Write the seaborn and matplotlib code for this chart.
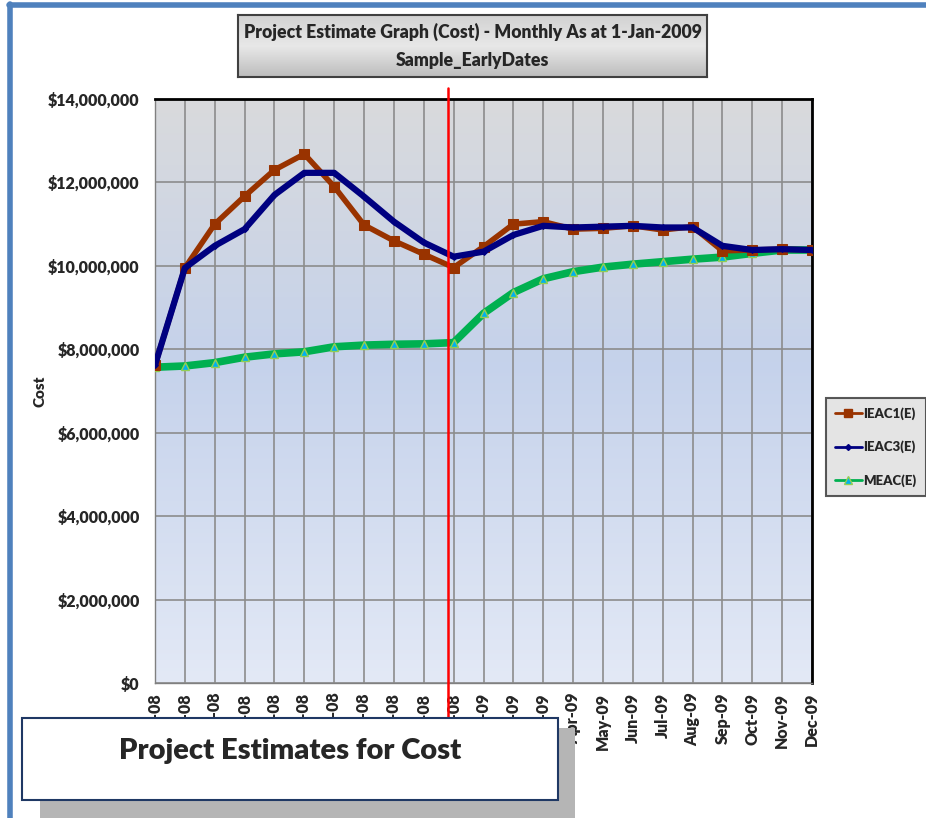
import numpy as np
import pandas as pd
import seaborn as sns
import matplotlib.pyplot as plt
from matplotlib.patches import Rectangle
from matplotlib.colors import LinearSegmentedColormap
from matplotlib.lines import Line2D
from matplotlib.ticker import FuncFormatter, MultipleLocator

# Data (values in dollars)
months = ["Feb-08", "Mar-08", "Apr-08", "May-08", "Jun-08", "Jul-08", "Aug-08", "Sep-08",
          "Oct-08", "Nov-08", "Dec-08", "Jan-09", "Feb-09", "Mar-09", "Apr-09", "May-09",
          "Jun-09", "Jul-09", "Aug-09", "Sep-09", "Oct-09", "Nov-09", "Dec-09"]
ieac1 = [7.62, 9.95, 11.00, 11.67, 12.30, 12.68, 11.90, 10.98, 10.60, 10.28, 9.96, 10.46,
         11.00, 11.06, 10.88, 10.90, 10.96, 10.86, 10.94, 10.36, 10.38, 10.40, 10.38]
ieac3 = [7.62, 9.95, 10.48, 10.88, 11.70, 12.23, 12.23, 11.66, 11.06, 10.56, 10.22, 10.34,
         10.74, 10.96, 10.92, 10.94, 10.96, 10.92, 10.92, 10.48, 10.38, 10.40, 10.38]
meac = [7.57, 7.60, 7.68, 7.81, 7.89, 7.94, 8.06, 8.10, 8.12, 8.13, 8.16, 8.86,
        9.36, 9.69, 9.86, 9.97, 10.04, 10.10, 10.16, 10.21, 10.30, 10.38, 10.38]
status_pos = 9.81  # "As at" line, between Nov-08 and Dec-08

df = pd.DataFrame({
    "idx": np.arange(len(months)),
    "IEAC1(E)": np.array(ieac1) * 1e6,
    "IEAC3(E)": np.array(ieac3) * 1e6,
    "MEAC(E)": np.array(meac) * 1e6,
})

sns.set_style("white")
plt.rcParams["font.family"] = ["Lato", "DejaVu Sans"]

W, H = 926, 818
fig = plt.figure(figsize=(W / 100, H / 100), dpi=100)
fig.patch.set_facecolor("white")


def fx(px):
    return px / W


def fy(py):
    return 1 - py / H


# outer blue frame (top and left)
fig.add_artist(Line2D([fx(9), fx(926)], [fy(5), fy(5)], color="#4f81bd", lw=4))
fig.add_artist(Line2D([fx(10), fx(10)], [fy(4), fy(818)], color="#4f81bd", lw=4))

ax = fig.add_axes([fx(155), fy(683), fx(812) - fx(155), fy(99) - fy(683)])

# gradient plot area
cmap = LinearSegmentedColormap.from_list(
    "bg", [(0, "#e3e9f6"), (0.55, "#c5d2eb"), (1.0, "#d9dadc")])
grad = np.linspace(0, 1, 256).reshape(-1, 1)
ax.imshow(grad, extent=[0, 1, 0, 1], transform=ax.transAxes, cmap=cmap,
          origin="lower", aspect="auto", zorder=0)

sns.lineplot(data=df, x="idx", y="IEAC1(E)", ax=ax, color="#993300", lw=4,
             marker="s", markersize=7, markeredgecolor="#993300", zorder=4)
sns.lineplot(data=df, x="idx", y="IEAC3(E)", ax=ax, color="#000080", lw=4.5,
             marker="D", markersize=3, markeredgecolor="#000080", zorder=5)
sns.lineplot(data=df, x="idx", y="MEAC(E)", ax=ax, color="#00b050", lw=5.5,
             marker="^", markersize=6, markerfacecolor="#00b0f0",
             markeredgecolor="#92d050", markeredgewidth=1, zorder=3)

ax.set_xlim(0, len(months) - 1)
ax.set_ylim(0, 14e6)
ax.yaxis.set_major_locator(MultipleLocator(2e6))
ax.yaxis.set_major_formatter(FuncFormatter(lambda v, p: f"${v:,.0f}"))
ax.set_xticks(df["idx"])
ax.set_xticklabels(months, rotation=90, fontsize=11.5, fontweight="heavy")
for lbl in ax.get_yticklabels():
    lbl.set_fontweight("heavy")
    lbl.set_fontsize(11.5)
ax.grid(True, color="#8c8c8c", lw=1.2, zorder=1)
ax.set_axisbelow(True)
ax.tick_params(axis="both", direction="out", length=5, color="#808080", width=1)
ax.tick_params(axis="x", pad=2)
ax.tick_params(axis="y", pad=6)

for side in ["top", "right"]:
    ax.spines[side].set_color("black")
    ax.spines[side].set_linewidth(2)
for side in ["left", "bottom"]:
    ax.spines[side].set_color("#808080")
    ax.spines[side].set_linewidth(1)

ax.set_xlabel("")
ax.set_ylabel("Cost", fontsize=11, fontweight="heavy", labelpad=1)

# status date line
ax.axvline(status_pos, ymin=-0.075, ymax=1.019, color="#ff0000", lw=1.8,
           clip_on=False, zorder=6)

# title box
tax = fig.add_axes([fx(238), fy(77), fx(707) - fx(238), fy(15) - fy(77)])
tgrad = np.linspace(0, 1, 64).reshape(-1, 1)
tcmap = LinearSegmentedColormap.from_list("tb", [(0, "#bdbdbd"), (0.5, "#e8e8e8"), (1, "#d2d2d2")])
tax.imshow(tgrad, extent=[0, 1, 0, 1], cmap=tcmap, origin="lower", aspect="auto")
tax.set_xticks([])
tax.set_yticks([])
for s in tax.spines.values():
    s.set_color("#404040")
    s.set_linewidth(1.5)
tax.text(0.5, 0.72, "Project Estimate Graph (Cost) - Monthly As at 1-Jan-2009",
         ha="center", va="center", fontsize=12.7, fontweight="heavy", transform=tax.transAxes)
tax.text(0.5, 0.27, "Sample_EarlyDates", ha="center", va="center", fontsize=12.7,
         fontweight="heavy", transform=tax.transAxes)

# legend
handles = [
    Line2D([], [], color="#993300", lw=2, marker="s", markersize=6),
    Line2D([], [], color="#000080", lw=2, marker="D", markersize=3),
    Line2D([], [], color="#00b050", lw=2, marker="^", markersize=6,
           markerfacecolor="#00b0f0", markeredgecolor="#92d050"),
]
leg = fig.legend(handles, ["IEAC1(E)", "IEAC3(E)", "MEAC(E)"], loc="center left",
                 bbox_to_anchor=(fx(826), fy(447)), frameon=True, fancybox=False,
                 handlelength=2.0, handletextpad=0.15, labelspacing=1.6,
                 borderpad=0.7, borderaxespad=0,
                 prop={"weight": "heavy", "size": 9.5})
leg.get_frame().set_facecolor("#dedede")
leg.get_frame().set_edgecolor("#303030")
leg.get_frame().set_linewidth(1.5)

# bottom caption box with shadow
fig.add_artist(Rectangle((fx(40), fy(818)), fx(575) - fx(40), fy(728) - fy(818),
                         transform=fig.transFigure, facecolor="#b5b5b5",
                         edgecolor="none", zorder=10))
fig.add_artist(Rectangle((fx(22), fy(800)), fx(558) - fx(22), fy(718) - fy(800),
                         transform=fig.transFigure, facecolor="white",
                         edgecolor="#1f3864", lw=1.5, zorder=11))
fig.text(fx(290), fy(751), "Project Estimates for Cost", ha="center", va="center",
         fontsize=21, fontweight="heavy", zorder=12)

fig.savefig("out.png", dpi=100)
